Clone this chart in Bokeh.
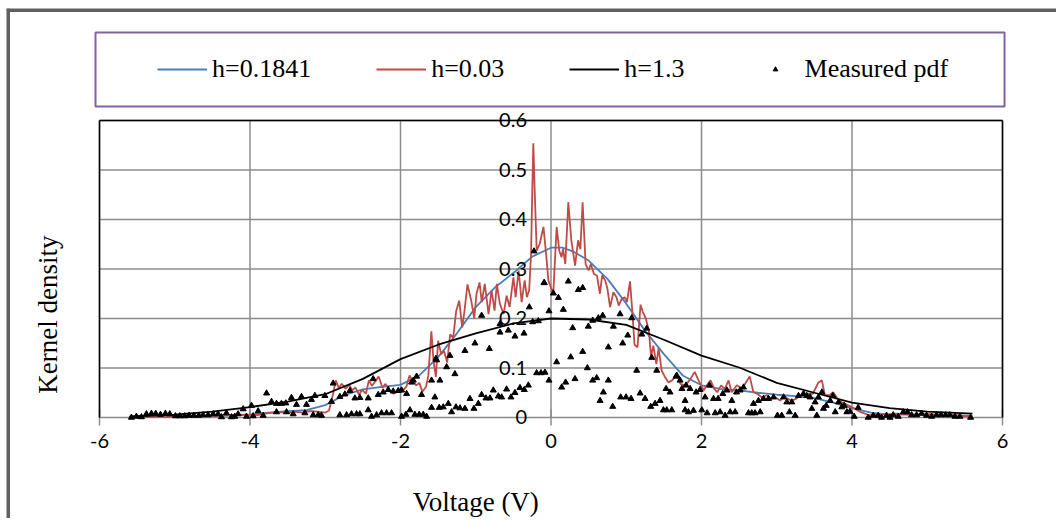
import math
from bokeh.plotting import figure
from bokeh.layouts import column
from bokeh.models import Legend, LegendItem, Range1d
from bokeh.core.properties import value
from bokeh.embed import file_html
from bokeh.resources import INLINE

# ---------------- data ----------------
x_ticks = [-6, -4, -2, 0, 2, 4, 6]
x_tick_labels = ["-6", "-4", "-2", "0", "2", "4", "6"]
y_ticks = [0, 0.1, 0.2, 0.3, 0.4, 0.5, 0.6]
y_tick_labels = ["0", "0.1", "0.2", "0.3", "0.4", "0.5", "0.6"]

# h = 0.1841
blue_x = [-5.6, -5.0, -4.5, -4.0, -3.75, -3.5, -3.25, -3.0, -2.75, -2.5, -2.25, -2.0,
          -1.75, -1.5, -1.25, -1.0, -0.75, -0.5, -0.25, 0.0, 0.15, 0.3, 0.5, 0.75,
          1.0, 1.25, 1.5, 1.75, 2.0, 2.25, 2.5, 2.75, 3.0, 3.25, 3.5, 3.75, 4.0,
          4.25, 4.5, 5.0, 5.6]
blue_y = [0.001, 0.002, 0.003, 0.006, 0.010, 0.013, 0.015, 0.025, 0.045, 0.057, 0.062, 0.066,
          0.085, 0.122, 0.170, 0.223, 0.262, 0.292, 0.325, 0.343, 0.343, 0.335, 0.317, 0.280,
          0.230, 0.175, 0.128, 0.085, 0.065, 0.058, 0.055, 0.050, 0.046, 0.043, 0.039, 0.030, 0.019,
          0.010, 0.006, 0.006, 0.003]

# h = 0.03
red_x = [-5.6, -5.2, -4.8, -4.4, -4.1, -3.9, -3.8, -3.7, -3.6, -3.5, -3.4, -3.3, -3.2, -3.1,
         -3.0, -2.95, -2.90, -2.86, -2.82, -2.78, -2.73, -2.68, -2.64, -2.60, -2.55, -2.51,
         -2.46, -2.42, -2.38, -2.33, -2.29, -2.24, -2.20, -2.15, -2.09, -2.03, -1.98, -1.92,
         -1.88, -1.84, -1.79, -1.75, -1.71, -1.66, -1.63, -1.59, -1.56, -1.53, -1.50, -1.46,
         -1.42, -1.38, -1.34, -1.30, -1.26, -1.22, -1.18, -1.15, -1.11, -1.06, -1.02, -0.99,
         -0.95, -0.92, -0.88, -0.83, -0.79, -0.75, -0.72, -0.68, -0.63, -0.59, -0.55, -0.50,
         -0.47, -0.43, -0.39, -0.35, -0.32, -0.29, -0.265, -0.25, -0.235, -0.215, -0.19, -0.15,
         -0.10, -0.065, -0.035, 0.0, 0.03, 0.075, 0.11, 0.14, 0.16, 0.19, 0.23, 0.27, 0.32,
         0.36, 0.39, 0.42, 0.46, 0.50, 0.53, 0.57, 0.61, 0.65, 0.68, 0.72, 0.75, 0.785, 0.83,
         0.87, 0.90, 0.94, 0.98, 1.01, 1.05, 1.08, 1.11, 1.15, 1.19, 1.22, 1.26, 1.30, 1.33,
         1.36, 1.40, 1.43, 1.47, 1.51, 1.56, 1.61, 1.67, 1.72, 1.78, 1.84, 1.91, 1.97, 2.03,
         2.07, 2.12, 2.17, 2.21, 2.26, 2.31, 2.36, 2.40, 2.47, 2.54, 2.58, 2.64, 2.69, 2.74,
         2.80, 2.87, 2.92, 2.98, 3.05, 3.09, 3.14, 3.20, 3.26, 3.31, 3.36, 3.42, 3.48, 3.55,
         3.60, 3.64, 3.70, 3.75, 3.81, 3.87, 3.93, 4.02, 4.10, 4.22, 4.4, 4.6, 4.8, 5.0, 5.2,
         5.4, 5.6]
red_y = [0.001, 0.002, 0.003, 0.004, 0.006, 0.005, 0.008, 0.010, 0.011, 0.009, 0.012, 0.010, 0.013, 0.012,
         0.010, 0.014, 0.045, 0.075, 0.060, 0.068, 0.058, 0.066, 0.055, 0.061, 0.046, 0.056,
         0.048, 0.075, 0.064, 0.074, 0.083, 0.060, 0.068, 0.055, 0.048, 0.057, 0.052, 0.063,
         0.085, 0.074, 0.065, 0.070, 0.052, 0.062, 0.085, 0.174, 0.113, 0.082, 0.155, 0.128,
         0.134, 0.111, 0.168, 0.161, 0.215, 0.236, 0.182, 0.215, 0.269, 0.236, 0.200, 0.250,
         0.273, 0.233, 0.270, 0.209, 0.257, 0.216, 0.270, 0.230, 0.209, 0.246, 0.223, 0.283,
         0.243, 0.297, 0.233, 0.277, 0.243, 0.257, 0.330, 0.450, 0.554, 0.450, 0.337, 0.351,
         0.385, 0.330, 0.277, 0.262, 0.250, 0.385, 0.337, 0.324, 0.340, 0.310, 0.435, 0.358, 0.307,
         0.358, 0.340, 0.435, 0.310, 0.297, 0.310, 0.290, 0.287, 0.250, 0.287, 0.277, 0.260, 0.223, 0.253,
         0.243, 0.226, 0.240, 0.243, 0.233, 0.275, 0.216, 0.147, 0.142, 0.228, 0.213, 0.200, 0.176, 0.123,
         0.145, 0.108, 0.140, 0.095, 0.083, 0.071, 0.075, 0.088, 0.068, 0.065, 0.075, 0.092, 0.072, 0.055,
         0.065, 0.075, 0.058, 0.051, 0.065, 0.058, 0.075, 0.051, 0.065, 0.058, 0.068, 0.083, 0.051, 0.048,
         0.041, 0.045, 0.038, 0.041, 0.034, 0.045, 0.038, 0.034, 0.038, 0.045, 0.045, 0.048, 0.048, 0.070,
         0.075, 0.045, 0.045, 0.051, 0.038, 0.030, 0.026, 0.019, 0.012, 0.005, 0.006, 0.008, 0.006, 0.007, 0.006,
         0.004, 0.002]

# h = 1.3
black_x = [-5.6, -5.0, -4.5, -4.0, -3.5, -3.0, -2.5, -2.0, -1.5, -1.0, -0.5, 0.0,
           0.5, 1.0, 1.5, 2.0, 2.5, 3.0, 3.5, 4.0, 4.5, 5.0, 5.6]
black_y = [0.002, 0.006, 0.012, 0.021, 0.032, 0.047, 0.078, 0.118, 0.147, 0.170, 0.190, 0.200,
           0.198, 0.187, 0.157, 0.125, 0.101, 0.070, 0.050, 0.030, 0.019, 0.012, 0.008]

# Measured pdf
meas_x = [-5.576, -5.51, -5.443, -5.377, -5.31, -5.253, -5.19, -5.124, -5.066, -4.991, -4.933,
          -4.867, -4.809, -4.747, -4.681, -4.623, -4.557, -4.49, -4.424, -4.379, -4.313, -4.246,
          -4.202, -4.158, -4.091, -4.047, -3.98, -3.958, -3.892, -3.825, -3.78, -3.714, -3.648,
          -3.648, -3.582, -3.524, -3.515, -3.449, -3.426, -3.382, -3.316, -3.271, -3.249, -3.183,
          -3.138, -3.16, -3.094, -3.05, -3.005, -2.917, -2.895, -2.806, -2.806, -2.739, -2.717,
          -2.673, -2.651, -2.606, -2.584, -2.54, -2.54, -2.429, -2.429, -2.385, -2.363, -2.318,
          -2.296, -2.252, -2.23, -2.185, -2.163, -2.119, -2.097, -2.03,
          -1.986, -1.928, -1.875, -1.809, -1.751, -1.698, -1.653, -1.587, -1.543, -1.485, -1.432,
          -1.365, -1.321, -1.263, -1.210, -1.144, -1.077, -1.024, -0.966, -0.922, -0.864, -0.811,
          -0.767, -0.700, -0.656, -0.590, -0.532, -0.479, -0.412, -0.355, -0.301, -0.191, -0.133,
          -0.080, -0.027, -1.986, -1.919, -1.853, -1.720, -1.587, -1.476, -1.387, -1.277, -1.529,
          -1.343, -1.144, -1.011, -0.820, -0.922, -0.678, -0.479, -0.359, -0.678, -0.567, -0.288,
          -0.244, -0.168, -0.089, -0.027, 0.031, 0.098, 0.164, 0.230, 0.288, 0.363, 0.421, 0.496,
          0.554, 0.629, 0.687, 0.762, 0.829, 0.918, 0.953, 1.020, 1.073, 0.075, 0.142, 0.195,
          0.262, 0.319, 0.421, 0.483, 0.554, 0.607, 0.652, 0.696, 0.762, 0.820, 0.926, 0.997,
          1.064, 1.139, 1.184, 1.250, 1.325, 1.383, 1.449, 1.494, 1.538, 1.605, 1.339, 1.405,
          1.529, 1.662, 1.715, 1.795, -0.226, -0.093, 1.272, 1.206, -1.83, -1.786, -1.52,
          1.582, 1.671, 1.740, 1.782, 1.782, 1.826, 1.848, 1.893, 1.928, 1.981, 2.004, 2.048,
          2.075, 2.106, 2.160, 2.182, 2.221, 2.248, 2.283, 2.314, 2.337, 2.381, 2.403, 2.447,
          2.465, 2.514, 2.558, 2.624, 2.668, 2.691, 2.712, 2.757, 2.780, 2.824, 2.890, 2.957,
          3.009, 3.066, 3.090, 3.134, 3.169, 3.200, 3.245, 3.289, 3.355, 3.399, 3.444, 3.466,
          3.510, 3.532, 3.554, 3.600, 3.621, 3.657, 3.710, 3.745, 3.777, 3.821, 3.865, 3.896,
          3.932, 3.972, 4.029, 4.082, 4.215, 4.282, 4.348, 4.393, 4.459, 4.504, 4.548, 4.614,
          4.681, 4.738, 4.792, 4.858, 4.925, 4.991, 5.058, 5.124, 5.182, 5.244, 5.301, 5.368,
          5.434, 5.576]
meas_y = [0.000, 0.002, 0.001, 0.007, 0.008, 0.008, 0.006, 0.008, 0.007, 0.003, 0.003,
          0.003, 0.004, 0.004, 0.004, 0.005, 0.005, 0.007, 0.007, 0.001, 0.009, 0.001,
          0.002, 0.007, 0.017, 0.002, 0.024, 0.003, 0.013, 0.004, 0.049, 0.032, 0.011,
          0.028, 0.028, 0.029, 0.011, 0.040, 0.007, 0.026, 0.042, 0.009, 0.026, 0.036,
          0.044, 0.005, 0.005, 0.004, 0.044, 0.032, 0.069, 0.042, 0.005, 0.047, 0.005,
          0.054, 0.007, 0.039, 0.007, 0.040, 0.007, 0.039, 0.015, 0.002, 0.078, 0.005,
          0.046, 0.009, 0.051, 0.009, 0.056, 0.009, 0.053, 0.054,
          0.002, 0.006, 0.015, 0.006, 0.006, 0.006, 0.002, 0.020, 0.041, 0.020, 0.021,
          0.028, 0.011, 0.021, 0.019, 0.018, 0.038, 0.018, 0.028, 0.046, 0.039, 0.039,
          0.055, 0.043, 0.041, 0.057, 0.041, 0.050, 0.060, 0.056, 0.065, 0.090, 0.090,
          0.091, 0.075, 0.055, 0.048, 0.071, 0.046, 0.075, 0.075, 0.102, 0.088, 0.119,
          0.125, 0.135, 0.150, 0.139, 0.206, 0.172, 0.164, 0.170, 0.189, 0.176, 0.223,
          0.193, 0.195, 0.272, 0.215, 0.251, 0.242, 0.218, 0.275, 0.181, 0.258, 0.262, 0.184,
          0.196, 0.201, 0.206, 0.142, 0.184, 0.209, 0.150, 0.166, 0.201, 0.112, 0.061, 0.071,
          0.122, 0.078, 0.133, 0.100, 0.075, 0.080, 0.034, 0.051, 0.075, 0.022, 0.041, 0.041,
          0.038, 0.095, 0.049, 0.038, 0.022, 0.028, 0.034, 0.015, 0.015, 0.015, 0.121, 0.095,
          0.058, 0.083, 0.075, 0.065, 0.336, 0.272, 0.180, 0.168, 0.075, 0.083, 0.116,
          0.051, 0.085, 0.058, 0.034, 0.015, 0.011, 0.058, 0.014, 0.051, 0.056, 0.015, 0.041,
          0.009, 0.065, 0.038, 0.009, 0.038, 0.011, 0.048, 0.004, 0.055, 0.011, 0.034, 0.011,
          0.051, 0.055, 0.061, 0.009, 0.009, 0.028, 0.009, 0.034, 0.011, 0.038, 0.038, 0.041,
          0.004, 0.004, 0.041, 0.031, 0.011, 0.031, 0.004, 0.044, 0.048, 0.044, 0.041, 0.018,
          0.031, 0.004, 0.041, 0.051, 0.018, 0.024, 0.034, 0.044, 0.011, 0.031, 0.021, 0.024,
          0.011, 0.012, 0.002, 0.020, 0.000, 0.004, 0.004, 0.000, 0.004, 0.000, 0.005, 0.002,
          0.011, 0.011, 0.005, 0.005, 0.008, 0.004, 0.002, 0.005, 0.005, 0.005, 0.005, 0.002,
          0.002, 0.000]

series_labels = ["h=0.1841", "h=0.03", "h=1.3", "Measured pdf"]
x_title = "Voltage (V)"
y_title = "Kernel density"

# ---------------- styles / layout ----------------
BLUE = "#4A7EBB"
RED = "#BE4B48"
BLACK = "#000000"
PURPLE = "#8064A2"
GRID = "#8C8C8C"
OUTER = "#606060"
SERIF = "Liberation Serif"
SANS = "Lato"
W, H = 1050, 510
# the plotting frame fills the whole canvas; the visible ranges are widened so that
# the plot area (-6..6, 0..0.6) sits where the reference has it and the titles,
# tick labels, legend box and chart-area border fit inside the frame
X_RANGE = (-7.2359, 6.7176)
Y_RANGE = (-0.20404, 0.82626)
LEG_BOX = dict(left=-6.053, right=6.027, bottom=0.6283, top=0.7778)
X_TITLE_POS = (-1.0, -0.170)
Y_TITLE_POS = (-6.68, 0.208)

p = figure(width=W, height=H, x_range=Range1d(*X_RANGE), y_range=Range1d(*Y_RANGE),
           x_axis_type=None, y_axis_type=None, toolbar_location=None, output_backend="svg",
           min_border=0, min_border_left=0, min_border_right=0, min_border_top=0,
           min_border_bottom=0, outline_line_color=None,
           background_fill_color="white", border_fill_color="white")
p.grid.visible = False

x0, x1 = x_ticks[0], x_ticks[-1]
ytop = y_ticks[-1]

# outer chart-area border (left and top edges of the canvas)
p.segment(x0=[X_RANGE[0], X_RANGE[0]], y0=[Y_RANGE[0], Y_RANGE[1]],
          x1=[X_RANGE[0], X_RANGE[1]], y1=[Y_RANGE[1], Y_RANGE[1]],
          line_color=OUTER, line_width=7)

# grid (vertical and horizontal), limited to the plot area
p.segment(x0=x_ticks, y0=[0] * len(x_ticks), x1=x_ticks, y1=[ytop] * len(x_ticks),
          line_color=GRID, line_width=1.5)
p.segment(x0=[x0] * len(y_ticks), y0=y_ticks, x1=[x1] * len(y_ticks), y1=y_ticks,
          line_color=GRID, line_width=1.5)
# x-axis tick marks (dash markers centred on the axis)
p.scatter(x_ticks, [0] * len(x_ticks), marker="dash", angle=math.pi / 2, size=16,
          line_color=GRID, line_width=1.5)
# plot-area border: black top, left, right
p.segment(x0=[x0, x0, x1], y0=[ytop, 0, 0], x1=[x1, x0, x1], y1=[ytop, ytop, ytop],
          line_color="black", line_width=1.5)

# series
p.line(blue_x, blue_y, line_color=BLUE, line_width=1.8)
p.line(red_x, red_y, line_color=RED, line_width=1.8)
p.line(black_x, black_y, line_color=BLACK, line_width=1.8)
p.scatter(meas_x, meas_y, marker="triangle", size=6, color=BLACK)

# tick labels
p.text(x=x_ticks, y=[0] * len(x_ticks), text=x_tick_labels, y_offset=24,
       text_align="center", text_baseline="middle", text_font=value(SANS),
       text_font_size="20px", text_color="black")
p.text(x=[0] * len(y_ticks), y=y_ticks, text=y_tick_labels, x_offset=-24,
       text_align="right", text_baseline="middle", text_font=value(SANS),
       text_font_size="20px", text_color="black")

# axis titles
p.text(x=[X_TITLE_POS[0]], y=[X_TITLE_POS[1]], text=[x_title], text_align="center",
       text_baseline="middle", text_font=value(SERIF), text_font_size="27px",
       text_color="black")
p.text(x=[Y_TITLE_POS[0]], y=[Y_TITLE_POS[1]], text=[y_title], angle=math.pi / 2,
       text_align="center", text_baseline="middle", text_font=value(SERIF),
       text_font_size="27px", text_color="black")

# legend box + legend
p.quad(left=[LEG_BOX["left"]], right=[LEG_BOX["right"]], bottom=[LEG_BOX["bottom"]],
       top=[LEG_BOX["top"]], fill_color=None, line_color=PURPLE, line_width=2)
la = p.line([100, 101], [100, 101], line_color=BLUE, line_width=2)
lb = p.line([100, 101], [100, 101], line_color=RED, line_width=2)
lc = p.line([100, 101], [100, 101], line_color=BLACK, line_width=2)
ld = p.scatter([100], [100], marker="triangle", size=5, color=BLACK)
legend = Legend(items=[LegendItem(label=series_labels[0], renderers=[la]),
                       LegendItem(label=series_labels[1], renderers=[lb]),
                       LegendItem(label=series_labels[2], renderers=[lc]),
                       LegendItem(label=series_labels[3], renderers=[ld])],
                orientation="horizontal", location=(151, 434),
                glyph_width=50, glyph_height=12, label_standoff=5, spacing=65,
                padding=0, margin=0, border_line_alpha=0, background_fill_alpha=0,
                label_text_font=SERIF, label_text_font_size="26px", label_text_color="black")
p.add_layout(legend)

layout = column(p, spacing=0, margin=(8, 0, 0, 6))

open("out.html", "w").write(file_html(layout, INLINE))
